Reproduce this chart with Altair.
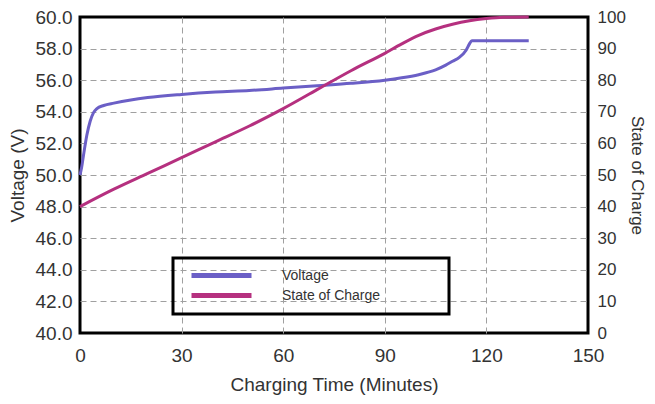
import altair as alt
import pandas as pd

# Voltage curve (minutes, volts)
v_time = [0, 0.5, 1, 2, 3, 4, 5, 7, 10, 15, 20, 30, 40, 50, 60, 70, 80, 90, 95, 100, 105, 108, 110, 112, 114, 115, 115.7, 132.5]
v_volt = [50.0, 50.5, 51.2, 52.5, 53.4, 53.95, 54.2, 54.4, 54.55, 54.75, 54.9, 55.1, 55.25, 55.35, 55.5, 55.65, 55.8, 56.0, 56.15, 56.35, 56.65, 56.95, 57.2, 57.45, 57.9, 58.3, 58.5, 58.5]

# State of charge curve (minutes, percent)
s_time = [0, 10, 20, 30, 40, 50, 60, 70, 80, 90, 95, 100, 105, 110, 115, 120, 125, 132.5]
s_soc = [40, 45.5, 50.5, 55.5, 60.5, 65.5, 71, 77, 83, 88.5, 91.5, 94.2, 96.2, 97.7, 98.8, 99.5, 99.9, 100]

series_names = ["Voltage", "State of Charge"]
series_colors = ["#6b5fc6", "#b5307f"]

x_ticks = [0, 30, 60, 90, 120, 150]
v_ticks = [40, 42, 44, 46, 48, 50, 52, 54, 56, 58, 60]
s_ticks = [0, 10, 20, 30, 40, 50, 60, 70, 80, 90, 100]

df_v = pd.DataFrame({"t": v_time, "v": v_volt, "series": "Voltage"})
df_s = pd.DataFrame({"t": s_time, "v": s_soc, "series": "State of Charge"})

FONT = "Liberation Sans"
TXT = "#333333"
PAD = "\u2800" * 6


def edge_hidden(lo, hi):
    return {"condition": {"test": f"datum.value == {lo} || datum.value == {hi}", "value": 0},
            "value": 1}


x_enc = alt.X("t:Q", scale=alt.Scale(domain=[0, 150], nice=False),
              axis=alt.Axis(values=x_ticks, title="Charging Time  (Minutes)", grid=True,
                            gridOpacity=edge_hidden(0, 150),
                            labelFlush=False, labelPadding=13, titlePadding=10))

color_enc = alt.Color("series:N",
                      scale=alt.Scale(domain=series_names, range=series_colors),
                      legend=alt.Legend(title=None, orient="none", legendX=93, legendY=241,
                                        direction="vertical",
                                        symbolType="M-4.286,0H4.286", symbolSize=196,
                                        symbolStrokeWidth=5, symbolOffset=31,
                                        labelOffset=51, labelFontSize=14,
                                        labelExpr="datum.label + '" + PAD + "'",
                                        labelLimit=400,
                                        rowPadding=-3, padding=8,
                                        strokeColor="black"))

volt = alt.Chart(df_v).mark_line(strokeWidth=3, interpolate="monotone").encode(
    x=x_enc,
    y=alt.Y("v:Q", scale=alt.Scale(domain=[40, 60], nice=False),
            axis=alt.Axis(values=v_ticks, format=".1f", title="Voltage (V)", grid=True,
                          gridOpacity=edge_hidden(40, 60),
                          orient="left", labelPadding=8, titlePadding=8)),
    color=color_enc,
)

soc = alt.Chart(df_s).mark_line(strokeWidth=3, interpolate="monotone").encode(
    x=x_enc,
    y=alt.Y("v:Q", scale=alt.Scale(domain=[0, 100], nice=False),
            axis=alt.Axis(values=s_ticks, title="State of Charge", grid=False,
                          orient="right", labelPadding=9, titlePadding=2,
                          labelFontSize=17, titleFontSize=17)),
    color=color_enc,
)

chart = alt.layer(volt, soc).resolve_scale(y="independent").properties(
    width=508, height=316,
    autosize=alt.AutoSizeParams(type="none"),
    padding={"left": 72, "top": 9, "right": 59, "bottom": 63},
).configure_view(
    stroke="black", strokeWidth=3
).configure_axis(
    labelFont=FONT, titleFont=FONT, labelFontSize=19, titleFontSize=19,
    labelColor=TXT, titleColor=TXT, titleFontWeight="normal",
    ticks=False, domain=False,
    gridColor="#a0a0a0", gridDash=[6, 4], gridWidth=1,
).configure_legend(
    labelFont=FONT, labelColor=TXT, strokeWidth=3
)

chart.save("out.html", embed_options={"renderer": "svg", "actions": False})
